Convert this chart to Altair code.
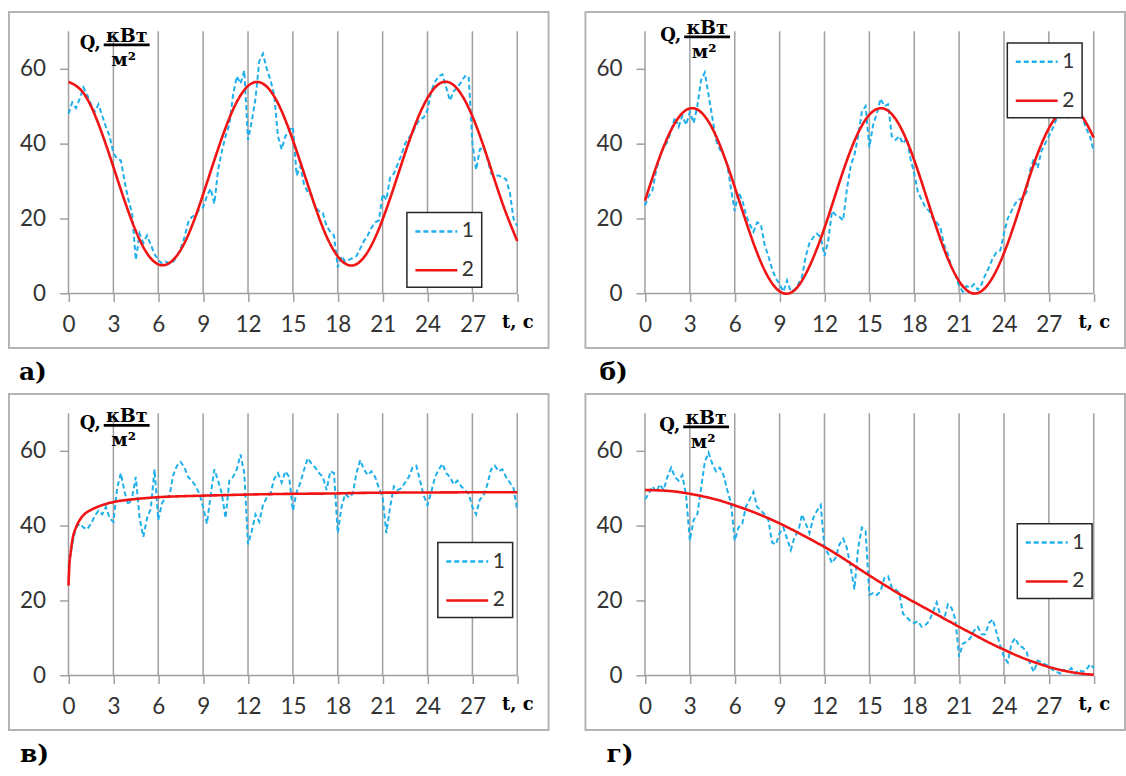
import altair as alt
import pandas as pd

# ---------------- data ----------------
t_blue = [i * 0.25 for i in range(121)]          # sample times, s (0 .. 30, step 0.25)

blue_a = [48, 51, 49.5, 52, 55, 53, 50.5, 48.5, 50.5, 47.5, 44.5, 42, 37.5, 36, 35.5, 30,
          25, 21.5, 9, 16, 13.5, 15.5, 13, 10.5, 9, 8, 8.5, 8, 8.5, 10, 12, 15,
          19, 20.5, 21, 22.5, 23, 26, 28, 24, 33, 38, 42, 45, 53, 58, 56, 59.5,
          41, 46, 52, 62, 64, 60, 57, 53, 42, 38.5, 42, 43.5, 44.5, 31.5, 34, 29,
          27, 26, 23, 22, 21.5, 18, 16.5, 15.5, 7, 10, 8.5, 9, 9.5, 10, 12, 14,
          15.5, 17.5, 19, 19.5, 26.5, 25, 31, 32, 34.5, 37, 40, 41.5, 43, 45, 46.5, 47,
          49, 54, 56.5, 58, 58.5, 55, 51.5, 54, 55, 56.5, 58, 58, 40, 33, 38.5, 39,
          36, 32, 31.5, 31.5, 31, 30.5, 27, 20, 18]

blue_b = [23.5, 26, 27.5, 33, 36.5, 39, 40.5, 43.5, 47, 44.5, 47.5, 45, 48.5, 45.5, 50, 57,
          59, 53, 47, 41, 38.5, 37, 34.5, 28, 22, 27, 25, 21, 18.5, 16.5, 19, 18.5,
          13, 10, 6.5, 4, 2.5, 0.5, 3.5, 0.5, 1, 2.5, 4.5, 10, 13.5, 15, 16, 15,
          10, 14, 22, 21, 20.5, 19.5, 28, 34, 37, 42, 48.5, 50, 39, 45, 48, 52,
          50, 50.5, 42, 41, 42, 40, 41.5, 36, 32, 27, 25, 23, 22, 20, 19, 17.5,
          13, 10.5, 7, 5, 2, 0.5, 2, 1.5, 2.5, 1, 2.5, 5, 7, 9.5, 11, 11.5,
          16, 20, 22, 24, 25, 25.5, 27, 33, 36, 33.5, 38, 40, 42, 44, 46.5, 47,
          47.5, 47, 48, 48.5, 48, 47, 44, 42, 38]

blue_c = [29, 35, 39.5, 40.5, 39.5, 39, 40.5, 42.5, 44, 43, 45, 42, 41, 50, 54, 49,
          45.5, 47.5, 53, 42, 37, 42, 44.5, 55, 41.5, 46, 47.5, 48, 53.5, 56, 57, 55.5,
          53, 52, 50.5, 48.5, 45, 40.5, 48, 55, 52, 48.5, 42, 52, 53, 55, 59, 54,
          35, 38.5, 43, 41, 45.5, 47.5, 48.5, 52.5, 54, 51.5, 54.5, 53, 44, 49, 51.5, 55,
          58, 56.5, 55.5, 54, 53, 49.5, 54.5, 54, 38, 45, 48.5, 47.5, 48.5, 54, 57.5, 55,
          53.5, 54.5, 53, 50, 47.5, 38, 45, 50.5, 49.5, 50, 51.5, 53, 55.5, 56, 52, 48,
          45.5, 49, 53, 55, 56.5, 54, 53, 51, 52, 50.5, 49.5, 48.5, 45, 43, 47, 48,
          51, 55, 56, 54.5, 55, 53, 51.5, 50, 44]

blue_d = [47, 48.5, 50.5, 49, 51, 49.5, 53, 55.5, 53, 52, 53.5, 48, 36, 41.5, 43, 50,
          57, 59.5, 56.5, 54.5, 55.5, 53.5, 49.5, 46, 36, 39.5, 40.5, 45, 47, 49, 45, 44,
          43, 41.5, 35.5, 35, 38, 39.5, 36.5, 33.5, 37, 38.5, 43, 40.5, 38, 42, 44, 45.5,
          34, 32.5, 30, 31.5, 35, 36.5, 34, 29, 23, 34, 39.5, 38.5, 21.5, 22, 21.5, 22.5,
          26, 26.5, 23.5, 23, 22, 16.5, 15.5, 14.5, 14, 14.5, 13, 13.5, 14.5, 17, 19.5, 16,
          15, 19, 18, 15, 5, 8.5, 9, 10, 12, 13, 11, 11, 14, 15, 11.5, 8,
          5, 3.5, 8.5, 10, 8, 7.5, 6.5, 3, 1, 4, 3.5, 3, 2.5, 1.5, 1, 0.5,
          1.5, 1, 2, 0.5, 1.5, 1, 1.5, 3, 2]

t_red = list(range(31))
red_a = [56.5, 53.5, 45.3, 33.8, 21.9, 12.4, 7.8, 9.0, 15.6, 26.5, 38.6, 49.1, 55.4, 56.0, 50.8, 40.9,
         29.0, 17.6, 9.9, 7.5, 11.1, 19.8, 31.4, 43.2, 52.2, 56.4, 54.6, 47.3, 36.3, 24.2, 14.0]
red_b = [24.8, 36.6, 45.5, 49.4, 47.3, 39.7, 28.4, 16.3, 6.2, 0.6, 0.9, 7.3, 17.5, 29.7, 40.7, 47.7,
         49.3, 45.0, 35.6, 23.5, 11.8, 3.3, 0.0, 2.8, 10.8, 22.3, 34.6, 44.1, 49.1, 48.4, 41.6]
t_red_c = [0, 0.05, 0.15, 0.3, 0.5, 0.75, 1, 1.5, 2, 3, 4, 5, 6, 8, 10, 12, 15, 18, 19, 21, 24, 27, 30]
red_c = [24, 29, 33, 37, 39.5, 41.5, 42.8, 44.2, 45.1, 46.3, 46.9, 47.3, 47.6, 47.9, 48.1, 48.3,
         48.5, 48.6, 48.7, 48.8, 48.85, 48.9, 48.9]
red_d = [49.5, 49.4, 49.1, 48.5, 47.7, 46.7, 45.4, 44.0, 42.4, 40.6, 38.6, 36.5, 34.3, 31.9, 29.3, 26.7,
         24.2, 21.8, 19.6, 17.4, 15.2, 13.0, 10.9, 8.8, 6.9, 5.1, 3.6, 2.3, 1.3, 0.6, 0.2]

x_ticks = [0, 3, 6, 9, 12, 15, 18, 21, 24, 27, 30]
y_ticks = [0, 20, 40, 60]
y_top = 70
series_names = ["1", "2"]
panel_letters = ["а)", "б)", "в)", "г)"]

# ---------------- style / layout ----------------
W, H = 541, 337
X_DOMAIN = [-3.98, 32.09]
Y_DOMAIN = [-14.56, 75.14]
BLUE = "#1fb0ec"
RED = "#f01414"
GRID = "#a0a0a0"
FRAME = "#b4b4b4"
TXT = "#333333"
NUMFONT = "Lato"
SERIF = "DejaVu Serif"

x_off = -(0 - X_DOMAIN[0]) / (X_DOMAIN[1] - X_DOMAIN[0]) * W
y_off = -(0 - Y_DOMAIN[0]) / (Y_DOMAIN[1] - Y_DOMAIN[0]) * H
xs = alt.Scale(domain=X_DOMAIN, nice=False, zero=False)
ys = alt.Scale(domain=Y_DOMAIN, nice=False, zero=False)

x_axis = alt.Axis(
    values=x_ticks, offset=y_off, domain=False, grid=False, tickSize=8, tickColor=GRID, tickWidth=1.5,
    labelExpr="datum.value == 30 ? 't, с' : datum.label",
    labelFont={"condition": {"test": "datum.value == 30", "value": SERIF}, "value": NUMFONT},
    labelFontWeight={"condition": {"test": "datum.value == 30", "value": "bold"}, "value": "normal"},
    labelFontSize={"condition": {"test": "datum.value == 30", "value": 18}, "value": 22.5},
    labelColor={"condition": {"test": "datum.value == 30", "value": "#000000"}, "value": TXT},
    labelPadding=12, labelFlush=False, labelOverlap=False, title=None)
y_axis = alt.Axis(
    values=y_ticks, offset=x_off, domain=False, grid=False, tickSize=9, tickColor=GRID, tickWidth=1.5,
    labelFont=NUMFONT, labelFontSize=22.5, labelColor=TXT, labelPadding=14, labelBaseline="middle",
    title=None)

one = alt.Data(values=[{}])


def panel(blue, red_t, red, red_interp, leg_x, leg_y, letter, letter_dx, bar_cx, bar_y):
    grid = alt.Chart(pd.DataFrame({"t": x_ticks})).mark_rule(color=GRID, strokeWidth=1.5).encode(
        x=alt.X("t:Q", scale=xs, axis=x_axis),
        y=alt.YDatum(0, scale=ys, axis=y_axis),
        y2=alt.datum(y_top),
    )
    base = alt.Chart(one).mark_rule(color=GRID, strokeWidth=1.5).encode(
        x=alt.XDatum(0, scale=xs), x2=alt.datum(30), y=alt.YDatum(0, scale=ys))
    leg = alt.Legend(orient="none", legendX=leg_x, legendY=leg_y, title=None,
                     symbolType="M-1,0H3", symbolSize=441, symbolStrokeWidth=2.5,
                     labelFont=NUMFONT, labelFontSize=21, labelColor=TXT, labelOffset=24,
                     padding=7, rowPadding=17, strokeColor="#262626", fillColor="white")
    col = alt.Color("s:N", scale=alt.Scale(domain=series_names, range=[BLUE, RED]), legend=leg)
    dash = alt.StrokeDash("s:N", scale=alt.Scale(domain=series_names, range=[[5, 3], [1, 0]]), legend=leg)
    dfb = pd.DataFrame({"t": t_blue, "q": blue, "s": series_names[0]})
    dfr = pd.DataFrame({"t": red_t, "q": red, "s": series_names[1]})
    l1 = alt.Chart(dfb).mark_line(strokeWidth=2).encode(
        x=alt.X("t:Q", scale=xs), y=alt.Y("q:Q", scale=ys), color=col, strokeDash=dash)
    l2 = alt.Chart(dfr).mark_line(strokeWidth=2.6, interpolate=red_interp).encode(
        x=alt.X("t:Q", scale=xs), y=alt.Y("q:Q", scale=ys), color=col, strokeDash=dash)

    def txt(s, dx, dy, size, align):
        return alt.Chart(one).mark_text(text=s, font=SERIF, fontWeight="bold", fontSize=size,
                                        color="#000000", align=align, baseline="alphabetic").encode(
            x=alt.value(bar_cx + dx), y=alt.value(bar_y + dy))

    q1 = txt("Q,", -47, 4, 18, "left")
    q2 = txt("кВт", 0, -3, 19, "center")
    q3 = txt("м²", -3, 21, 19, "center")
    bar = alt.Chart(one).mark_rule(color="#000000", strokeWidth=2.8).encode(
        x=alt.value(bar_cx - 23), x2=alt.value(bar_cx + 23), y=alt.value(bar_y))

    return alt.layer(grid, base, l1, l2, q1, q2, q3, bar).properties(
        width=W, height=H,
        title=alt.TitleParams(text=letter, orient="bottom", anchor="start", font=SERIF, fontSize=25,
                              fontWeight="bold", color="#000000", offset=12, dx=letter_dx),
    )


pa = panel(blue_a, t_red, red_a, "natural", 399, 201, panel_letters[0], 10, 118, 33)
pb = panel(blue_b, t_red, red_b, "natural", 423, 31, panel_letters[1], 14, 122, 25)
pc = panel(blue_c, t_red_c, red_c, "monotone", 430, 149, panel_letters[2], 11, 118, 31.5)
pd_ = panel(blue_d, t_red, red_d, "natural", 433, 130, panel_letters[3], 21, 121, 33)


def indep(c):
    return c.resolve_scale(color="independent", strokeDash="independent").resolve_legend(
        color="independent", strokeDash="independent")


chart = indep(alt.vconcat(
    indep(alt.hconcat(pa, pb, spacing=35)),
    indep(alt.hconcat(pc, pd_, spacing=35)),
    spacing=7,
)).properties(
    padding={"left": 8, "top": 10, "right": 0, "bottom": 0}, background="white"
).configure_view(stroke=FRAME, strokeWidth=2).configure_legend(strokeWidth=1.5)

chart.save("out.html", embed_options={"renderer": "svg", "actions": False})
